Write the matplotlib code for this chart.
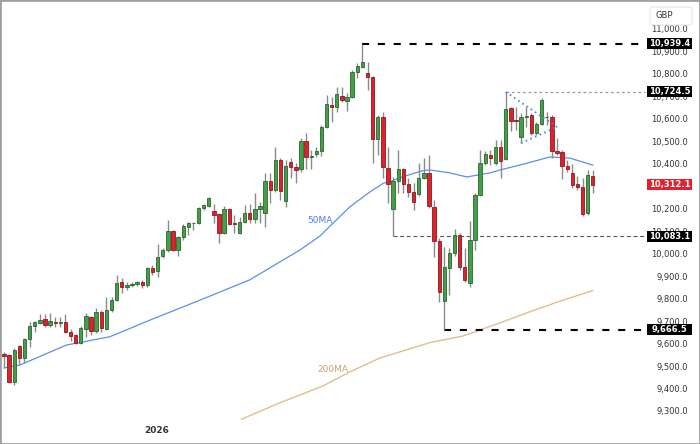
import matplotlib
matplotlib.use("Agg")
import matplotlib.pyplot as plt
import matplotlib.transforms as mtransforms
from matplotlib.patches import Rectangle, FancyBboxPatch
import numpy as np

# ---------------- data (daily candles, GBP) ----------------
opens = [9558, 9554, 9434, 9594, 9540, 9625, 9683, 9696, 9714, 9687,
         9701, 9696, 9701, 9656, 9643, 9607, 9670, 9723, 9661, 9745,
         9670, 9754, 9799, 9879, 9856, 9865, 9870, 9879, 9865, 9941,
         9928, 9994, 10021, 10106, 10021, 10079, 10123, 10139, 10141, 10208,
         10217, 10195, 10181, 10097, 10203, 10141, 10097, 10146, 10186, 10159,
         10203, 10186, 10328, 10288, 10422, 10239, 10413, 10390, 10382, 10506,
         10435, 10448, 10462, 10568, 10666, 10657, 10706, 10684, 10702, 10813,
         10835, 10809, 10791, 10515, 10613, 10386, 10203, 10328, 10382, 10315,
         10279, 10270, 10341, 10364, 10212, 10061, 9794, 9941, 10008, 10088,
         9945, 9874, 10066, 10266, 10408, 10444, 10408, 10479, 10426, 10653,
         10600, 10524, 10613, 10622, 10542, 10582, 10613, 10613, 10462, 10457,
         10395, 10364, 10315, 10301, 10186, 10350]
highs = [9567, 9558, 9585, 9598, 9629, 9701, 9705, 9736, 9736, 9741,
         9723, 9723, 9736, 9670, 9647, 9683, 9741, 9727, 9763, 9754,
         9812, 9812, 9910, 9896, 9879, 9879, 9883, 9888, 9945, 9954,
         10048, 10030, 10155, 10110, 10083, 10137, 10146, 10146, 10212, 10226,
         10257, 10226, 10186, 10217, 10208, 10177, 10168, 10221, 10226, 10275,
         10235, 10364, 10364, 10479, 10430, 10422, 10430, 10408, 10519, 10542,
         10466, 10479, 10577, 10711, 10702, 10746, 10746, 10720, 10822, 10853,
         10939.4, 10858, 10795, 10622, 10635, 10479, 10346, 10466, 10386, 10341,
         10319, 10408, 10430, 10444, 10244, 10074, 10034, 10030, 10115, 10097,
         10030, 10150, 10275, 10466, 10462, 10466, 10511, 10511, 10724.5, 10657,
         10657, 10631, 10657, 10631, 10591, 10697, 10635, 10622, 10519, 10466,
         10422, 10404, 10350, 10341, 10377, 10377]
lows = [9496, 9429, 9420, 9509, 9518, 9589, 9656, 9692, 9678, 9678,
        9678, 9678, 9652, 9616, 9603, 9603, 9634, 9643, 9652, 9656,
        9665, 9745, 9794, 9830, 9843, 9856, 9861, 9852, 9856, 9910,
        9901, 9985, 10012, 10017, 9994, 10066, 10088, 10110, 10137, 10199,
        10212, 10141, 10052, 10092, 10132, 10097, 10092, 10141, 10141, 10141,
        10141, 10123, 10230, 10279, 10244, 10212, 10341, 10319, 10368, 10382,
        10382, 10435, 10439, 10564, 10591, 10635, 10680, 10640, 10697, 10786,
        10831, 10733, 10408, 10444, 10341, 10230, 10083.1, 10275, 10275, 10257,
        10199, 10261, 10337, 10208, 9990, 9790, 9666.5, 9821, 9994, 9932,
        9879, 9856, 10021, 10261, 10399, 10399, 10399, 10341, 10422, 10551,
        10555, 10497, 10568, 10533, 10533, 10577, 10577, 10430, 10444, 10337,
        10368, 10297, 10288, 10172, 10177, 10275]
closes = [9549, 9434, 9576, 9540, 9625, 9683, 9701, 9710, 9687, 9705,
          9696, 9701, 9656, 9638, 9607, 9674, 9727, 9661, 9745, 9674,
          9754, 9799, 9874, 9856, 9865, 9870, 9879, 9865, 9941, 9923,
          9990, 10021, 10106, 10021, 10079, 10128, 10141, 10143, 10208, 10221,
          10252, 10177, 10097, 10203, 10137, 10137, 10146, 10186, 10159, 10203,
          10217, 10328, 10288, 10422, 10284, 10395, 10390, 10377, 10506, 10435,
          10439, 10462, 10568, 10671, 10657, 10715, 10689, 10702, 10813, 10840,
          10858, 10791, 10515, 10613, 10390, 10315, 10328, 10382, 10315, 10279,
          10235, 10341, 10364, 10217, 10061, 9834, 9945, 10008, 10088, 9945,
          9888, 10066, 10266, 10408, 10448, 10430, 10479, 10417, 10649, 10595,
          10597, 10613, 10617, 10542, 10582, 10689, 10611, 10462, 10453, 10395,
          10382, 10310, 10301, 10181, 10355, 10312.1]

ma50_idx = [0, 3.1, 12.2, 20.7, 28.5, 38.3, 48.0, 57.8, 61.7, 64.3, 67.6, 71.5,
            74.1, 75.7, 77.9, 81.8, 83.2, 87.1, 90.4, 94.9, 96.9, 102.1, 106.6,
            110.5, 115.0]
ma50_val = [9496, 9509, 9598, 9635, 9709, 9798, 9888, 10021, 10083, 10141, 10214,
            10280, 10318, 10328, 10347, 10374, 10377, 10364, 10346, 10364, 10377,
            10407, 10435, 10430, 10399]
ma200_idx = [46.4, 53.9, 62.3, 67.6, 73.4, 83.2, 89.6, 96.3, 102.7, 109.2, 115.0]
ma200_val = [9268, 9341, 9416, 9479, 9540, 9609, 9638, 9692, 9746, 9798, 9840]

tri_upper_idx = [98, 108]
tri_upper_val = [10724.5, 10568]
tri_lower_idx = [101, 108]
tri_lower_val = [10497, 10568]

level_vals = [10939.4, 10724.5, 10083.1, 9666.5]
level_start = [70, 98, 76, 86]
last_price = 10312.1

ytick_vals = [9300, 9400, 9500, 9600, 9700, 9800, 9900, 10000, 10100,
              10200, 10400, 10500, 10600, 10700, 10800, 10900, 11000]
x_label = "2026"
x_label_idx = 29.9

# ---------------- figure ----------------
W, H = 700, 444
fig = plt.figure(figsize=(W / 100, H / 100), dpi=100)
fig.patch.set_facecolor("white")
PLOT_R = 647
ax = fig.add_axes([0, 0, PLOT_R / W, 1])
ax.set_facecolor("white")
x0, dx = 4.0, 5.12
ax.set_xlim(-x0 / dx, (PLOT_R - x0) / dx)
ax.set_ylim(11133.5 - 4.4503 * H, 11133.5)
ax.axis("off")

n = len(opens)
xs = np.arange(n)
o = np.array(opens); c = np.array(closes); hi = np.array(highs); lo = np.array(lows)
up = c >= o
green, green_e = "#43a047", "#2b6530"
red, red_e = "#e0202b", "#8a1a20"
ax.vlines(xs, lo, hi, color="#8a8a8a", lw=1.0, zorder=2)
bottom = np.minimum(o, c)
height = np.maximum(np.abs(c - o), 3)
ax.bar(xs[up], height[up], bottom=bottom[up], width=0.66, color=green,
       edgecolor=green_e, linewidth=0.6, zorder=3)
ax.bar(xs[~up], height[~up], bottom=bottom[~up], width=0.66, color=red,
       edgecolor=red_e, linewidth=0.6, zorder=3)

# moving averages
ax.plot(ma50_idx, ma50_val, color="#5b8ff0", lw=0.9, zorder=1)
ax.plot(ma200_idx, ma200_val, color="#e2bd8e", lw=1.0, zorder=1)
ax.text(61.7, 10154, "50MA", color="#4c80ea", fontsize=6.5, ha="center", va="center")
ax.text(64.3, 9487, "200MA", color="#c9a36f", fontsize=6.5, ha="center", va="center")

# triangle
ax.plot(tri_upper_idx, tri_upper_val, color="#4f83e8", lw=1.4,
        linestyle=(0, (0.8, 1.8)), zorder=4)
ax.plot(tri_lower_idx, tri_lower_val, color="#4f83e8", lw=1.4,
        linestyle=(0, (0.8, 1.8)), zorder=4)

# horizontal levels
xr = (PLOT_R - 2 - x0) / dx
styles = [dict(color="black", lw=1.5, linestyle=(0, (3.4, 4.2))),
          dict(color="#9a9a9a", lw=0.9, linestyle=(0, (2.2, 2.2))),
          dict(color="#555555", lw=0.8, linestyle=(0, (3.5, 2.5))),
          dict(color="black", lw=1.5, linestyle=(0, (3.4, 4.2)))]
for v, s, st in zip(level_vals, level_start, styles):
    ax.plot([s, xr], [v, v], zorder=1.5, **st)

# price axis labels
tr = mtransforms.blended_transform_factory(fig.transFigure, ax.transData)
for v in ytick_vals:
    ax.text(688 / W, v, f"{v:,.1f}", transform=tr, ha="right", va="center",
            fontsize=6, color="#333333", clip_on=False, zorder=5)

box_h = 11 * 4.4503
def tag(v, face):
    r = Rectangle((647 / W, v - box_h / 2), 45 / W, box_h, transform=tr,
                  facecolor=face, edgecolor="none", clip_on=False, zorder=6)
    ax.add_patch(r)
    ax.text(669.5 / W, v, f"{v:,.1f}", transform=tr, ha="center", va="center",
            fontsize=6, color="white", fontweight="bold", clip_on=False, zorder=7)

for v in level_vals:
    tag(v, "black")
tag(last_price, "#e3222b")

# currency box
gbp = FancyBboxPatch((650 / W, 1 - 25 / H), 42 / W, 18 / H,
                     boxstyle="round,pad=0,rounding_size=0.006",
                     transform=fig.transFigure, facecolor="white",
                     edgecolor="#e3e5ea", lw=0.8, zorder=8)
fig.patches.append(gbp)
fig.text(664 / W, 1 - 16 / H, "GBP", ha="center", va="center", fontsize=6,
         color="#333333", zorder=9)

# x label
fig.text((x0 + x_label_idx * dx) / W, 1 - 430 / H, x_label, ha="center", va="center",
         fontsize=6.5, fontweight="bold", color="#333333")

# outer frame
fig.patches.append(Rectangle((0, 0), 1, 1, transform=fig.transFigure, fill=False,
                             edgecolor="#a0a0a0", lw=2.0, zorder=10))

fig.savefig("out.png", dpi=100)
